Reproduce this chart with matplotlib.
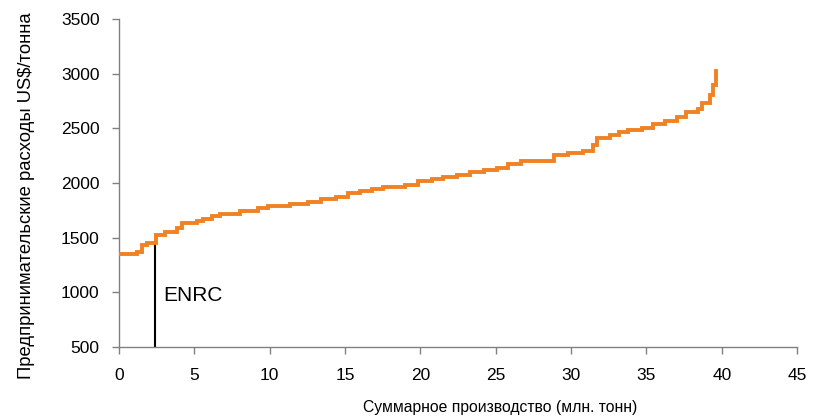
import numpy as np
import matplotlib
matplotlib.use("Agg")
import matplotlib.pyplot as plt

# cumulative production where each cost step starts (mln t) and its cost (US$/t)
step_start = [0.0, 1.17, 1.5, 1.84, 2.45, 3.05, 3.83, 4.16, 5.16, 5.6,
              6.2, 6.7, 8.05, 9.2, 9.9, 11.35, 12.55, 13.4, 14.4, 15.2,
              16.0, 16.77, 17.54, 18.98, 19.84, 20.75, 21.5, 22.4, 23.3, 24.2,
              25.06, 25.8, 26.7, 28.85, 29.8, 30.8, 31.45, 31.7, 32.6, 33.2,
              33.8, 34.7, 35.4, 36.2, 37.0, 37.6, 38.4, 38.7, 39.2, 39.4, 39.6]
step_cost = [1348, 1366, 1433, 1454, 1522, 1555, 1586, 1632, 1655, 1671,
             1698, 1713, 1747, 1769, 1790, 1805, 1823, 1851, 1875, 1912,
             1927, 1945, 1966, 1985, 2018, 2037, 2058, 2076, 2098, 2116,
             2137, 2171, 2205, 2256, 2277, 2296, 2350, 2409, 2440, 2467,
             2485, 2506, 2537, 2567, 2607, 2652, 2674, 2729, 2805, 2897, 3028]

enrc_x = 2.39
enrc_cost = 1454
enrc_label = "ENRC"

x_ticks = [0, 5, 10, 15, 20, 25, 30, 35, 40, 45]
y_ticks = [500, 1000, 1500, 2000, 2500, 3000, 3500]

plt.rcParams['font.family'] = ['Liberation Sans', 'DejaVu Sans']

fig = plt.figure(figsize=(8.21, 4.16), dpi=100)
ax = fig.add_axes([0.145, 0.166, 0.826, 0.788])

ax.step(step_start, step_cost, where='post', color='#F08224', linewidth=2.8,
        solid_joinstyle='miter', zorder=3)

# ENRC marker line
ax.plot([enrc_x, enrc_x], [500, enrc_cost], color='black', linewidth=1.5, zorder=2)
ax.text(enrc_x + 0.55, 975, enrc_label, fontsize=15, va='center', ha='left')

ax.set_xlim(0, 45)
ax.set_ylim(500, 3500)
ax.set_xticks(x_ticks)
ax.set_yticks(y_ticks)

for side in ['top', 'right']:
    ax.spines[side].set_visible(False)
for side in ['left', 'bottom']:
    ax.spines[side].set_color('#808080')
    ax.spines[side].set_linewidth(1.0)

ax.tick_params(axis='x', direction='out', length=5, width=1, color='#808080',
               pad=10, labelsize=12.5)
ax.tick_params(axis='y', direction='out', length=5, width=1, color='#808080',
               pad=9, labelsize=12.5)

ax.set_xlabel("Суммарное производство (млн. тонн)", fontsize=11.3)
ax.xaxis.set_label_coords(0.562, -0.163)
ax.set_ylabel("Предпринимательские расходы US$/тонна", fontsize=13.3)
ax.yaxis.set_label_coords(-0.124, 0.46)

fig.savefig("out.png", dpi=100)
